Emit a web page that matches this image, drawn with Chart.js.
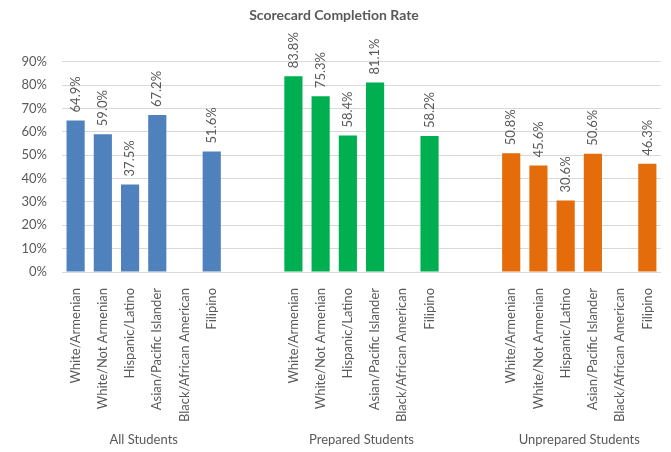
<!DOCTYPE html>
<html>
<head>
<meta charset="utf-8">
<script src="https://cdn.jsdelivr.net/npm/chart.js@4.4.1/dist/chart.umd.min.js"></script>
<style>
  html, body { margin: 0; padding: 0; background: #fff; }
  #wrap { width: 671px; height: 452px; position: relative; }
</style>
</head>
<body>
<div id="wrap"><canvas id="graficoScorecard"></canvas></div>
<script>
// ========== DADOS ==========
const categorias = ['White/Armenian', 'White/Not Armenian', 'Hispanic/Latino', 'Asian/Pacific Islander', 'Black/African American', 'Filipino'];
const grupos = ['All Students', 'Prepared Students', 'Unprepared Students'];
const allStudents = [64.9, 59.0, 37.5, 67.2, null, 51.6];
const preparedStudents = [83.8, 75.3, 58.4, 81.1, null, 58.2];
const unpreparedStudents = [50.8, 45.6, 30.6, 50.6, null, 46.3];
const yTicks = [0, 10, 20, 30, 40, 50, 60, 70, 80, 90];

const cores = ['#4F81BD', '#00B050', '#E46C0A'];
const series = [allStudents, preparedStudents, unpreparedStudents];
const GAP = 2; // categorias vazias entre os grupos

// Monta eixo de categorias com espaços entre grupos
const labels = [];
const inicioGrupo = [];
grupos.forEach((g, gi) => {
    if (gi > 0) for (let k = 0; k < GAP; k++) labels.push('');
    inicioGrupo.push(labels.length);
    categorias.forEach(c => labels.push(c));
});

const datasets = series.map((vals, si) => {
    const data = labels.map(() => null);
    vals.forEach((v, i) => { data[inicioGrupo[si] + i] = v; });
    return {
        label: grupos[si],
        data: data,
        backgroundColor: cores[si],
        grouped: false,
        barPercentage: 0.667,
        categoryPercentage: 1
    };
});

const txtCor = '#595959';
const fonte = 'Lato, "Open Sans", sans-serif';

// Rótulos de valor (verticais) acima das barras
const rotulosValor = {
    id: 'rotulosValor',
    afterDatasetsDraw(chart) {
        const ctx = chart.ctx;
        ctx.save();
        ctx.font = '13px ' + fonte;
        ctx.fillStyle = txtCor;
        ctx.textAlign = 'left';
        ctx.textBaseline = 'middle';
        chart.data.datasets.forEach((ds, di) => {
            chart.getDatasetMeta(di).data.forEach((bar, i) => {
                const v = ds.data[i];
                if (v === null || v === undefined) return;
                ctx.save();
                ctx.translate(bar.x, bar.y - 8);
                ctx.rotate(-Math.PI / 2);
                ctx.fillText(v.toFixed(1) + '%', 0, 0);
                ctx.restore();
            });
        });
        ctx.restore();
    }
};

// Rótulos dos grupos abaixo do eixo X
const rotulosGrupo = {
    id: 'rotulosGrupo',
    afterDraw(chart) {
        const ctx = chart.ctx, x = chart.scales.x;
        ctx.save();
        ctx.font = '13px ' + fonte;
        ctx.fillStyle = txtCor;
        ctx.textAlign = 'center';
        ctx.textBaseline = 'middle';
        grupos.forEach((g, gi) => {
            const centro = inicioGrupo[gi] + (categorias.length - 1) / 2;
            ctx.fillText(g, x.getPixelForValue(centro), chart.chartArea.bottom + 168);
        });
        ctx.restore();
    }
};

new Chart(document.getElementById('graficoScorecard'), {
    type: 'bar',
    data: { labels: labels, datasets: datasets },
    options: {
        responsive: true,
        maintainAspectRatio: false,
        animation: false,
        layout: { padding: { left: 0, right: 3, top: 0, bottom: 0 } },
        plugins: {
            legend: { display: false },
            tooltip: { enabled: false },
            title: {
                display: true,
                text: 'Scorecard Completion Rate',
                color: txtCor,
                font: { family: fonte, size: 14, weight: 'bold' },
                padding: { top: 7, bottom: 38 }
            }
        },
        scales: {
            x: {
                grid: { display: false },
                border: { display: true, color: '#D9D9D9' },
                afterFit: s => { s.height = 180; },
                ticks: {
                    autoSkip: false,
                    minRotation: 90,
                    maxRotation: 90,
                    padding: 8,
                    color: txtCor,
                    font: { family: fonte, size: 13 }
                }
            },
            y: {
                min: 0,
                max: 90,
                afterFit: s => { s.width = 62; },
                afterBuildTicks: s => { s.ticks = yTicks.map(v => ({ value: v })); },
                grid: { color: '#D9D9D9', drawTicks: false },
                border: { display: false },
                ticks: {
                    padding: 15,
                    color: txtCor,
                    font: { family: fonte, size: 13 },
                    callback: v => v + '%'
                }
            }
        }
    },
    plugins: [rotulosValor, rotulosGrupo]
});
</script>
</body>
</html>
